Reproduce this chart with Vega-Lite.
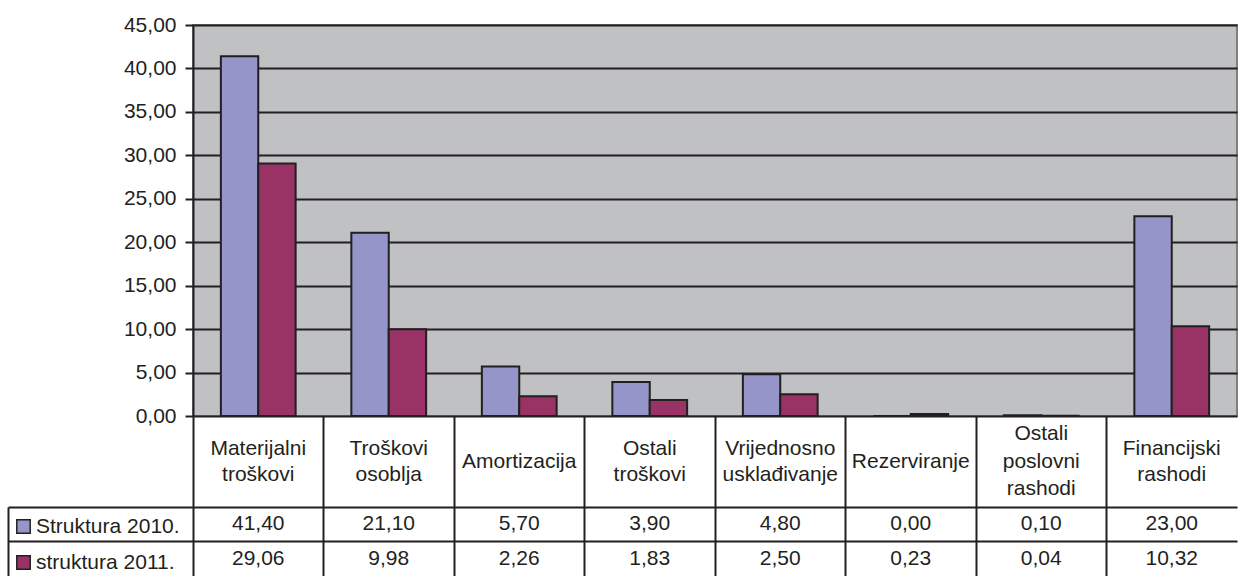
{
  "$schema": "https://vega.github.io/schema/vega-lite/v6.json",
  "padding": {"left": 7, "top": 13, "right": 0, "bottom": 0},
  "background": "white",
  "spacing": 0,
  "bounds": "flush",
  "datasets": {
    "costs": [
      {"kategorija": "Materijalni troškovi", "serija": "Struktura 2010.", "vrijednost": 41.40},
      {"kategorija": "Troškovi osoblja", "serija": "Struktura 2010.", "vrijednost": 21.10},
      {"kategorija": "Amortizacija", "serija": "Struktura 2010.", "vrijednost": 5.70},
      {"kategorija": "Ostali troškovi", "serija": "Struktura 2010.", "vrijednost": 3.90},
      {"kategorija": "Vrijednosno usklađivanje", "serija": "Struktura 2010.", "vrijednost": 4.80},
      {"kategorija": "Rezerviranje", "serija": "Struktura 2010.", "vrijednost": 0.00},
      {"kategorija": "Ostali poslovni rashodi", "serija": "Struktura 2010.", "vrijednost": 0.10},
      {"kategorija": "Financijski rashodi", "serija": "Struktura 2010.", "vrijednost": 23.00},
      {"kategorija": "Materijalni troškovi", "serija": "struktura 2011.", "vrijednost": 29.06},
      {"kategorija": "Troškovi osoblja", "serija": "struktura 2011.", "vrijednost": 9.98},
      {"kategorija": "Amortizacija", "serija": "struktura 2011.", "vrijednost": 2.26},
      {"kategorija": "Ostali troškovi", "serija": "struktura 2011.", "vrijednost": 1.83},
      {"kategorija": "Vrijednosno usklađivanje", "serija": "struktura 2011.", "vrijednost": 2.50},
      {"kategorija": "Rezerviranje", "serija": "struktura 2011.", "vrijednost": 0.23},
      {"kategorija": "Ostali poslovni rashodi", "serija": "struktura 2011.", "vrijednost": 0.04},
      {"kategorija": "Financijski rashodi", "serija": "struktura 2011.", "vrijednost": 10.32}
    ]
  },
  "config": {
    "font": "Liberation Sans",
    "locale": {"number": {"decimal": ",", "thousands": ".", "grouping": [3], "currency": ["", ""]}},
    "concat": {"spacing": 0},
    "view": {"stroke": null},
    "axis": {"title": null, "labelFont": "Liberation Sans", "labelColor": "#231f20"},
    "legend": {"labelFont": "Liberation Sans"}
  },
  "vconcat": [
    {
      "width": 1044,
      "height": 391,
      "view": {"fill": "#c0c1c3", "stroke": "#808080", "strokeWidth": 2},
      "data": {"name": "costs"},
      "mark": {"type": "bar", "stroke": "#231f20", "strokeWidth": 2},
      "encoding": {
        "x": {
          "field": "kategorija", "type": "nominal",
          "sort": ["Materijalni troškovi", "Troškovi osoblja", "Amortizacija", "Ostali troškovi", "Vrijednosno usklađivanje", "Rezerviranje", "Ostali poslovni rashodi", "Financijski rashodi"],
          "scale": {"paddingInner": 0.427, "paddingOuter": 0.2135},
          "axis": null
        },
        "xOffset": {
          "field": "serija", "type": "nominal",
          "sort": ["Struktura 2010.", "struktura 2011."],
          "scale": {"paddingInner": 0, "paddingOuter": 0}
        },
        "y": {
          "field": "vrijednost", "type": "quantitative",
          "scale": {"domain": [0, 45], "nice": false},
          "axis": {
            "values": [0, 5, 10, 15, 20, 25, 30, 35, 40, 45],
            "format": ".2f",
            "labelFontSize": 21,
            "labelPadding": 9,
            "tickSize": 8, "tickColor": "#231f20", "tickWidth": 2,
            "domainColor": "#231f20", "domainWidth": 2,
            "grid": true, "gridColor": "#231f20", "gridWidth": 2, "gridOpacity": 1,
            "title": null
          }
        },
        "color": {
          "field": "serija", "type": "nominal",
          "scale": {"domain": ["Struktura 2010.", "struktura 2011."], "range": ["#9595c9", "#993366"]},
          "legend": {
            "title": null, "orient": "none", "legendX": -180, "legendY": 491,
            "symbolType": "square", "symbolSize": 180, "symbolStrokeColor": "#231f20", "symbolStrokeWidth": 1.5, "symbolOpacity": 1,
            "labelFontSize": 21, "labelColor": "#231f20", "labelOffset": 2, "labelLimit": 300,
            "rowPadding": 14, "padding": 0
          }
        }
      }
    },
    {
      "width": 1044,
      "height": 91,
      "data": {"name": "costs"},
      "transform": [
        {"filter": "datum.serija == 'Struktura 2010.'"},
        {"calculate": "length(split(datum.kategorija, ' '))", "as": "redaka"}
      ],
      "encoding": {
        "x": {
          "field": "kategorija", "type": "nominal",
          "sort": ["Materijalni troškovi", "Troškovi osoblja", "Amortizacija", "Ostali troškovi", "Vrijednosno usklađivanje", "Rezerviranje", "Ostali poslovni rashodi", "Financijski rashodi"],
          "scale": {"type": "band", "padding": 0},
          "axis": {"labels": false, "ticks": false, "domain": false, "grid": true, "gridColor": "#231f20", "gridWidth": 2, "gridOpacity": 1, "bandPosition": 0, "title": null}
        },
        "text": {"field": "kategorija", "type": "nominal"}
      },
      "layer": [
        {
          "transform": [{"filter": "datum.redaka == 1"}],
          "mark": {"type": "text", "fontSize": 21, "lineBreak": " ", "lineHeight": 27, "baseline": "middle", "align": "center", "color": "#231f20", "dy": 0}
        },
        {
          "transform": [{"filter": "datum.redaka == 2"}],
          "mark": {"type": "text", "fontSize": 21, "lineBreak": " ", "lineHeight": 26, "baseline": "middle", "align": "center", "color": "#231f20", "dy": -13}
        },
        {
          "transform": [{"filter": "datum.redaka == 3"}],
          "mark": {"type": "text", "fontSize": 21, "lineBreak": " ", "lineHeight": 27.5, "baseline": "middle", "align": "center", "color": "#231f20", "dy": -27.5}
        }
      ]
    },
    {
      "width": 1044,
      "height": 69,
      "data": {"name": "costs"},
      "layer": [
        {
          "mark": {"type": "text", "fontSize": 21, "baseline": "middle", "align": "center", "color": "#231f20"},
          "encoding": {
            "x": {
              "field": "kategorija", "type": "nominal",
              "sort": ["Materijalni troškovi", "Troškovi osoblja", "Amortizacija", "Ostali troškovi", "Vrijednosno usklađivanje", "Rezerviranje", "Ostali poslovni rashodi", "Financijski rashodi"],
              "scale": {"type": "band", "padding": 0},
              "axis": {"labels": false, "ticks": false, "domain": false, "grid": true, "gridColor": "#231f20", "gridWidth": 2, "gridOpacity": 1, "bandPosition": 0, "title": null}
            },
            "y": {
              "field": "serija", "type": "nominal",
              "sort": ["Struktura 2010.", "struktura 2011."],
              "scale": {"type": "band", "padding": 0},
              "axis": {"labels": false, "domain": false, "ticks": true, "tickSize": 185, "tickColor": "#231f20", "tickWidth": 2, "grid": true, "gridColor": "#231f20", "gridWidth": 2, "gridOpacity": 1, "bandPosition": 0, "title": null}
            },
            "text": {"field": "vrijednost", "type": "quantitative", "format": ".2f"}
          }
        },
        {
          "mark": {"type": "point", "opacity": 0},
          "encoding": {
            "y": {
              "field": "serija", "type": "nominal",
              "sort": ["Struktura 2010.", "struktura 2011."],
              "axis": {"orient": "left", "offset": 185, "labels": false, "ticks": false, "grid": false, "domain": true, "domainColor": "#231f20", "domainWidth": 2, "title": null}
            }
          }
        }
      ],
      "resolve": {"axis": {"y": "independent"}}
    }
  ]
}
